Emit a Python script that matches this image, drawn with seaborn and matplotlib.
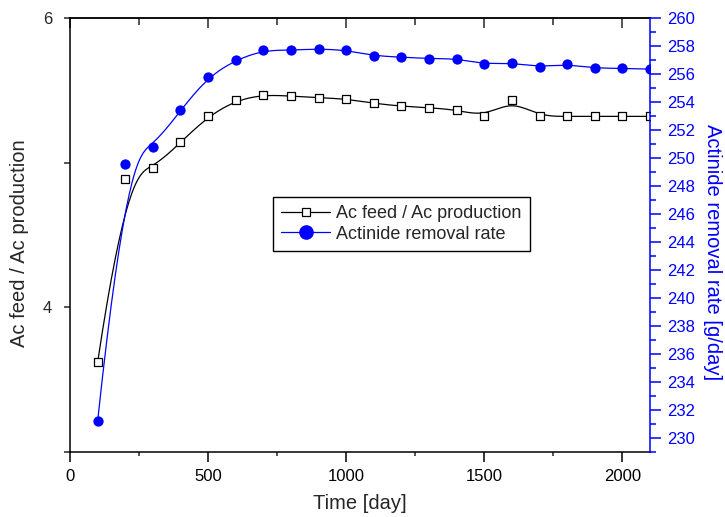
import numpy as np
import pandas as pd
import matplotlib
matplotlib.use("Agg")
import matplotlib.pyplot as plt
import seaborn as sns
from matplotlib.ticker import MultipleLocator
from matplotlib.lines import Line2D

# ---- data ----
days = [100, 200, 300, 400, 500, 600, 700, 800, 900, 1000, 1100,
        1200, 1300, 1400, 1500, 1600, 1700, 1800, 1900, 2000, 2100]
ac_ratio = [3.62, 4.89, 4.96, 5.14, 5.32, 5.43, 5.47, 5.46, 5.45, 5.44, 5.41,
            5.39, 5.38, 5.365, 5.32, 5.43, 5.32, 5.32, 5.32, 5.32, 5.32]
removal_rate = [231.2, 249.6, 250.8, 253.4, 255.8, 257.0, 257.7, 257.7, 257.8, 257.7, 257.3,
                257.2, 257.1, 257.1, 256.7, 256.8, 256.5, 256.7, 256.4, 256.4, 256.35]

label_ratio = "Ac feed / Ac production"
label_rate = "Actinide removal rate"
xlabel = "Time [day]"
ylabel_left = "Ac feed / Ac production"
ylabel_right = "Actinide removal rate [g/day]"


def bspline(xs, ys, n=600, k=3):
    """Clamped uniform cubic B-spline using the data points as control points."""
    P = np.column_stack([xs, ys]).astype(float)
    m = len(P)
    knots = np.concatenate([np.zeros(k), np.linspace(0, 1, m - k + 1), np.ones(k)])
    t = np.linspace(0, 1, n)
    t[-1] -= 1e-10
    N = np.array([((knots[i] <= t) & (t < knots[i + 1])).astype(float)
                  for i in range(len(knots) - 1)])
    for p in range(1, k + 1):
        Nn = np.zeros((len(knots) - 1 - p, n))
        for i in range(len(knots) - 1 - p):
            d1 = knots[i + p] - knots[i]
            d2 = knots[i + p + 1] - knots[i + 1]
            a = (t - knots[i]) / d1 * N[i] if d1 > 0 else 0.0
            b = (knots[i + p + 1] - t) / d2 * N[i + 1] if d2 > 0 else 0.0
            Nn[i] = a + b
        N = Nn
    C = N.T @ P
    return C[:, 0], C[:, 1]


sns.set_style("ticks")
plt.rcParams["font.family"] = ["Liberation Sans", "DejaVu Sans"]

fig = plt.figure(figsize=(7.25, 5.17), dpi=100)
ax = fig.add_axes([70 / 725, 1 - 452 / 517, 580 / 725, 434 / 517])
ax2 = ax.twinx()

df = pd.DataFrame({"day": days, "ratio": ac_ratio, "rate": removal_rate})
sx, sy = bspline(days, ac_ratio)
bx, by = bspline(days, removal_rate)

# black series (left axis)
sns.lineplot(x=sx, y=sy, ax=ax, sort=False, estimator=None, color="black", lw=0.9)
sns.scatterplot(data=df, x="day", y="ratio", ax=ax, marker="s", s=40,
                facecolor="white", edgecolor="black", linewidth=0.9, zorder=3)

# blue series (right axis)
sns.lineplot(x=bx, y=by, ax=ax2, sort=False, estimator=None, color="#0000ff", lw=0.9)
sns.scatterplot(data=df, x="day", y="rate", ax=ax2, marker="o", s=55,
                color="#0000ff", edgecolor="#0000ff", linewidth=0, zorder=3)

ax.set_xlim(0, 2100)
ax.set_ylim(3, 6)
ax2.set_ylim(229, 260)

ax.xaxis.set_major_locator(MultipleLocator(500))
ax.xaxis.set_minor_locator(MultipleLocator(250))
ax.yaxis.set_major_locator(MultipleLocator(2))
ax.yaxis.set_minor_locator(MultipleLocator(1))
ax2.yaxis.set_major_locator(MultipleLocator(2))
ax2.yaxis.set_minor_locator(MultipleLocator(1))

lw_sp = 1.1
for s in ["left", "bottom", "top"]:
    ax.spines[s].set_visible(True)
    ax.spines[s].set_linewidth(lw_sp)
    ax.spines[s].set_color("black")
ax.spines["right"].set_visible(False)
for s in ["left", "bottom", "top"]:
    ax2.spines[s].set_visible(False)
ax2.spines["right"].set_visible(True)
ax2.spines["right"].set_color("#0000ff")
ax2.spines["right"].set_linewidth(lw_sp)

ax.tick_params(axis="x", which="major", direction="out", length=7, width=lw_sp,
               labelsize=12, pad=5, colors="black", top=False)
ax.tick_params(axis="x", which="minor", direction="out", length=3, width=lw_sp, top=False)
ax.tick_params(axis="y", which="major", direction="out", length=4, width=lw_sp,
               labelsize=12, pad=9, right=False)
ax.tick_params(axis="y", which="minor", direction="out", length=4, width=lw_sp, right=False)

ax2.tick_params(axis="y", which="major", direction="out", length=8, width=lw_sp,
                labelsize=12, pad=4, colors="#0000ff", left=False)
ax2.tick_params(axis="y", which="minor", direction="out", length=4, width=lw_sp,
                colors="#0000ff", left=False)

# top axis: inward ticks, no labels
top = ax.secondary_xaxis("top")
top.xaxis.set_major_locator(MultipleLocator(500))
top.xaxis.set_minor_locator(MultipleLocator(250))
top.tick_params(axis="x", which="major", direction="in", length=7, width=lw_sp, labeltop=False)
top.tick_params(axis="x", which="minor", direction="in", length=5, width=lw_sp)
top.spines["top"].set_linewidth(lw_sp)

ax.set_xlabel(xlabel, fontsize=14.5)
ax.set_ylabel(ylabel_left, fontsize=14.5)
ax2.set_ylabel(ylabel_right, fontsize=14.5, color="#0000ff", rotation=270)

ax.xaxis.set_label_coords(0.5, -(494 - 452) / 434)
ax.yaxis.label.set_verticalalignment("center")
ax.yaxis.set_label_coords((20 - 70) / 580, (452 - 243) / 434)
ax2.yaxis.label.set_verticalalignment("center")
ax2.yaxis.set_label_coords((713 - 70) / 580, (452 - 252) / 434)

handles = [
    Line2D([], [], color="black", lw=0.9, marker="s", markersize=5.5,
           markerfacecolor="white", markeredgecolor="black", markeredgewidth=0.9),
    Line2D([], [], color="#0000ff", lw=0.9, marker="o", markersize=9.5,
           markerfacecolor="#0000ff", markeredgecolor="#0000ff"),
]
leg = ax2.legend(handles, [label_ratio, label_rate], loc="upper left",
                 bbox_to_anchor=(273 / 725, 1 - 197 / 517), bbox_transform=fig.transFigure,
                 fontsize=13, frameon=True, fancybox=False, shadow=False,
                 handlelength=2.7, handletextpad=0.35, borderpad=0.45,
                 labelspacing=0.2, borderaxespad=0)
leg.get_frame().set_edgecolor("black")
leg.get_frame().set_linewidth(1.0)
leg.get_frame().set_alpha(1)

fig.savefig("out.png", dpi=100)
